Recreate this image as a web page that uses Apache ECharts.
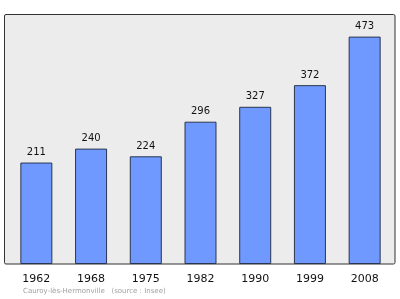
<!DOCTYPE html>
<html>
<head>
<meta charset="utf-8">
<script src="https://cdn.jsdelivr.net/npm/echarts@6/dist/echarts.min.js"></script>
<style>html,body{margin:0;padding:0;background:#fff}#c{width:400px;height:299px}</style>
</head>
<body>
<div id="c"></div>
<script>
var categories = ['1962', '1968', '1975', '1982', '1990', '1999', '2008'];
var population = [211, 240, 224, 296, 327, 372, 473];
var caption = 'Cauroy-lès-Hermonville   (source : Insee)';

var chart = echarts.init(document.getElementById('c'), null, {renderer: 'canvas'});
chart.setOption({
  animation: false,
  backgroundColor: '#ffffff',
  graphic: [
    {type: 'rect', z: 0, shape: {x: 4.5, y: 14.5, width: 390.5, height: 249.5, r: 1.5},
     style: {fill: '#ececec', stroke: '#333333', lineWidth: 1}},
    {type: 'text', left: 23, top: 288,
     style: {text: caption, fill: '#a0a0a0', font: '7px "DejaVu Sans"'}}
  ],
  grid: {left: 9, right: 8, top: 14, bottom: 35},
  xAxis: {
    type: 'category', data: categories,
    axisLine: {show: false}, axisTick: {show: false},
    axisLabel: {color: '#111', fontSize: 11, fontFamily: 'DejaVu Sans', margin: 10}
  },
  yAxis: {type: 'value', min: 0, max: 520, show: false, splitLine: {show: false}},
  series: [{
    type: 'bar', data: population, barWidth: 32,
    itemStyle: {color: '#6f99ff', borderColor: '#2a3550', borderWidth: 1},
    label: {show: true, position: 'top', distance: 5, color: '#111', fontSize: 10, fontFamily: 'DejaVu Sans'}
  }]
});
</script>
</body>
</html>
